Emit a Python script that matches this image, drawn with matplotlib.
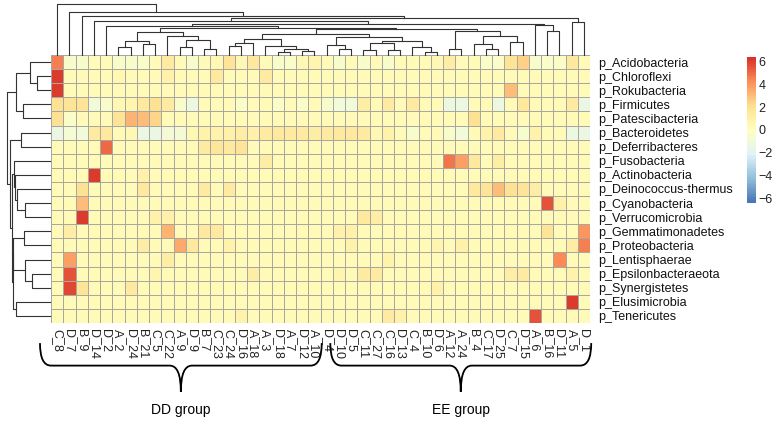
import numpy as np
import matplotlib
matplotlib.use("Agg")
import matplotlib.pyplot as plt
from matplotlib.colors import LinearSegmentedColormap
from matplotlib.path import Path
from matplotlib.patches import PathPatch

plt.rcParams['font.family'] = ['Liberation Sans', 'DejaVu Sans']

# samples in clustered order
samples = ['C_8', 'D_7', 'B_9', 'D_14', 'D_2', 'A_2', 'D_24', 'B_21', 'C_5', 'C_22',
           'A_9', 'D_9', 'B_7', 'C_23', 'C_24', 'D_16', 'A_18', 'A_3', 'D_18', 'A_7',
           'D_12', 'A_10', 'D_4', 'D_10', 'D_5', 'C_11', 'C_27', 'C_16', 'D_13', 'C_4',
           'B_10', 'D_6', 'A_12', 'A_24', 'B_4', 'C_17', 'D_25', 'C_7', 'D_15', 'A_6',
           'B_16', 'D_11', 'A_5', 'D_1']

phyla = ['p_Acidobacteria', 'p_Chloroflexi', 'p_Rokubacteria', 'p_Firmicutes',
         'p_Patescibacteria', 'p_Bacteroidetes', 'p_Deferribacteres', 'p_Fusobacteria',
         'p_Actinobacteria', 'p_Deinococcus-thermus', 'p_Cyanobacteria',
         'p_Verrucomicrobia', 'p_Gemmatimonadetes', 'p_Proteobacteria', 'p_Lentisphaerae',
         'p_Epsilonbacteraeota', 'p_Synergistetes', 'p_Elusimicrobia', 'p_Tenericutes']

# scaled abundance (z-score), one list per phylum
acidobacteria = [4.5, -0.4, -0.4, 0.2, 0.3, -0.4, -0.4, -0.3, 0.3, 1.3, 0.3, -0.4, 0.3, 0.4, 1.8, 0.4, 1.6, 0.3, -0.4, -0.3, 0.5, 0.7,
                 0.3, -0.4, 0.3, -0.4, 0.3, -0.4, 0.3, 0.3, 0.3, 0.5, 1.2, 0.3, 0.3, -0.3, -0.3, 1.8, 2.5, -0.4, -0.3, -0.3, 1.5, 0.3]
chloroflexi = [6.0, 0.3, 0.3, 0.3, 0.3, 0.6, 0.3, 0.3, 0.3, 1.0, 0.3, 0.3, 0.3, 1.5, 0.3, 0.3, 0.3, 1.3, 0.3, 0.3, 0.3, 0.3,
               0.3, 0.3, 0.3, 0.3, 0.3, 0.3, 0.3, 0.3, 0.3, 0.3, 0.3, 0.3, 0.3, 0.3, 0.3, 0.3, 0.3, 0.3, 0.3, 0.3, 0.3, 0.3]
rokubacteria = [6.0, 0.3, 0.3, 0.3, 0.3, 0.3, 0.3, 0.3, 0.3, 0.3, 0.3, 0.3, 0.3, 0.3, 0.3, 0.3, 0.3, 0.3, 0.3, 0.3, 0.3, 0.3,
                0.3, 0.3, 0.3, 0.3, 0.3, 0.3, 0.3, 0.3, 0.3, 0.3, 0.3, 0.3, 0.3, 0.3, 0.3, 3.0, 0.3, 0.3, 0.3, 0.3, 0.3, 0.3]
firmicutes = [2.0, 1.8, 1.8, -1.0, -0.5, 0.5, 0.7, 1.5, 2.0, 1.3, -0.4, -1.2, 0.3, 0.3, 0.3, -0.3, 0.3, 0.3, -0.3, 0.3, -0.3, 0.3,
              -0.4, -1.0, -1.0, 1.2, 0.3, 1.3, 0.3, 1.3, 0.3, 0.3, -1.2, -1.2, 0.3, 0.3, -1.2, 0.3, 1.6, 0.3, 0.3, 0.3, 1.3, -1.3]
patescibacteria = [2.0, -0.3, 0.3, 0.3, 0.3, 1.8, 3.2, 3.0, 2.3, 0.3, 0.3, 0.3, 0.3, 0.3, 0.3, 0.3, 0.3, 0.3, 0.3, 0.3, 0.3, 0.3,
                   0.3, 0.3, 0.3, 0.3, 0.3, 0.3, 0.3, 0.3, 0.3, 0.3, 0.3, 0.3, 2.0, 0.3, 0.3, 0.3, 0.3, 0.3, 0.3, 0.3, 0.3, 0.3]
bacteroidetes = [-1.3, -0.7, -1.0, 1.3, 1.5, 0.3, 0.5, -1.3, -1.3, -0.8, -0.8, 0.5, 0.8, 0.8, 1.0, 1.2, 1.0, 1.3, 1.4, 1.3, 1.3, 1.2,
                 1.3, 1.5, 1.5, 1.3, 0.5, 0.8, 0.3, -0.5, 0.3, 0.3, -0.5, -1.0, 0.3, 0.8, 1.3, 0.3, -0.6, 0.8, 0.3, 0.3, -1.2, -1.3]
deferribacteres = [0.3, 0.3, 0.3, 0.3, 5.0, 0.3, 0.3, 0.3, 0.3, 0.3, 0.3, 0.3, 1.3, 1.7, 1.5, 1.8, 0.3, 0.3, 0.3, 0.3, 0.3, 0.3,
                   0.3, 0.3, 0.3, 0.3, 0.3, 0.3, 0.3, 0.3, 0.3, 0.3, 0.3, 0.3, 0.3, 0.3, 0.3, 0.3, 0.3, 0.3, 0.3, 0.3, 0.3, 0.3]
fusobacteria = [0.3, 0.3, 0.3, 0.3, 0.3, 0.3, 0.3, 0.3, 0.3, 0.3, 0.3, 0.3, 0.3, 0.3, 0.3, 0.3, 0.3, 1.2, 0.3, 0.3, 0.3, 0.3,
                0.3, 0.3, 0.3, 0.3, 0.3, 0.3, 0.3, 0.3, 0.3, 0.3, 4.8, 3.8, 1.5, 0.3, 1.2, 0.3, 0.3, 0.3, 0.3, 0.3, 0.3, 0.3]
actinobacteria = [0.3, 0.3, 0.3, 6.0, 0.3, 0.3, 0.3, 0.9, 0.3, 0.3, 0.3, 0.3, 0.3, 0.3, 0.3, 0.3, 0.3, 0.3, 0.3, 0.3, 0.3, 0.3,
                  0.3, 0.3, 0.3, 0.3, 0.3, 0.3, 0.3, 0.3, 0.3, 0.3, 0.3, 0.3, 0.3, 0.3, 0.3, 0.3, 0.3, 0.3, 0.3, 0.3, 0.3, 0.3]
deinococcus = [0.3, 0.3, 2.0, 0.3, 0.3, 0.3, 0.3, 1.5, 0.3, 0.3, 0.3, 0.3, 1.3, 0.3, 1.3, 0.3, 0.3, 0.3, 0.3, 0.3, 0.3, 0.3,
               0.3, 0.3, 0.3, 0.3, 0.3, 0.3, 0.3, 0.3, 0.3, 0.3, 0.3, 0.3, 1.5, 1.8, 3.0, 2.0, 1.8, 1.2, 0.3, 0.3, 0.3, 0.3]
cyanobacteria = [0.3, 0.3, 3.0, 0.3, 0.3, 0.3, 0.3, 0.3, 0.3, 0.3, 0.3, 0.3, 0.3, 0.3, 0.3, 0.3, 0.3, 0.3, 0.3, 0.3, 0.3, 0.3,
                 0.3, 0.3, 0.3, 0.3, 0.3, 0.3, 0.3, 0.3, 0.3, 0.3, 0.3, 0.3, 0.3, 0.3, 0.3, 0.3, 0.3, 0.3, 5.5, 1.0, 0.3, 0.3]
verrucomicrobia = [0.3, 0.3, 6.0, 0.3, 0.3, 0.3, 0.3, 0.3, 0.9, 1.0, 0.3, 0.3, 0.3, 0.3, 0.3, 0.3, 0.3, 0.3, 0.3, 0.3, 0.3, 0.3,
                   0.3, 0.3, 0.3, 1.5, 1.2, 0.3, 0.3, 0.3, 0.3, 0.3, 0.3, 0.3, 0.3, 0.3, 0.3, 0.3, 0.3, 0.3, 0.3, 0.3, 0.3, 0.3]
gemmatimonadetes = [0.3, 1.2, 0.3, 0.3, 0.3, 0.3, 0.3, 0.3, 0.3, 3.2, 0.3, 0.3, 1.5, 1.5, 0.3, 0.3, 0.3, 0.3, 0.3, 0.3, 0.3, 0.3,
                    0.3, 1.0, 1.0, 0.3, 0.3, 0.3, 0.3, 0.3, 0.3, 0.3, 0.3, 0.3, 0.3, 0.3, 0.3, 0.3, 0.3, 0.3, 1.8, 0.3, 0.3, 4.0]
proteobacteria = [0.3, 0.3, 0.3, 0.3, 0.3, 0.3, 0.3, 1.2, 0.3, 0.3, 3.5, 1.5, 0.3, 0.3, 0.8, 0.3, 0.3, 0.3, 0.3, 0.3, 0.3, 0.3,
                  0.3, 0.3, 0.8, 0.3, 0.3, 0.3, 0.3, 0.3, 0.3, 0.7, 0.3, 0.9, 0.3, 0.3, 0.3, 0.3, 0.3, 0.3, 0.3, 0.3, 1.2, 4.5]
lentisphaerae = [0.3, 3.8, 0.3, 0.3, 0.3, 0.3, 0.3, 0.3, 0.3, 1.2, 0.3, 0.3, 0.3, 0.3, 0.3, 0.3, 0.3, 0.3, 0.3, 0.3, 0.3, 0.3,
                 0.3, 0.3, 0.3, 0.3, 0.3, 0.8, 0.3, 0.3, 0.3, 0.3, 0.3, 0.3, 0.3, 0.3, 0.3, 0.3, 0.3, 0.3, 0.3, 4.3, 0.3, 0.3]
epsilonbacteraeota = [0.3, 5.5, 0.3, 0.3, 0.3, 0.3, 0.3, 0.3, 0.7, 0.3, 0.3, 0.3, 0.3, 0.3, 0.3, 0.3, 1.2, 0.3, 0.3, 0.3, 0.3, 0.3,
                      0.3, 0.7, 0.3, 1.3, 1.3, 0.3, 0.3, 0.3, 0.3, 0.3, 0.3, 0.3, 0.3, 0.3, 0.3, 1.2, 1.3, 0.3, 0.3, 0.3, 0.8, 0.3]
synergistetes = [0.3, 5.8, 1.8, 0.3, 0.3, 0.3, 1.5, 0.3, 0.3, 0.3, 0.3, 0.3, 0.3, 0.3, 0.3, 0.3, 0.3, 0.3, 0.3, 0.3, 0.3, 0.3,
                 0.3, 0.3, 0.3, 0.3, 0.3, 0.3, 0.3, 0.3, 0.3, 0.9, 0.3, 0.3, 0.3, 0.3, 0.3, 0.3, 0.3, 0.3, 0.3, 0.3, 0.3, 0.3]
elusimicrobia = [0.3, 0.3, 0.3, 0.3, 0.3, 0.3, 0.3, 0.3, 0.3, 0.3, 0.3, 0.3, 0.3, 0.3, 0.3, 0.3, 0.3, 0.3, 0.3, 0.3, 0.3, 0.3,
                 0.3, 0.3, 0.3, 0.3, 0.3, 0.3, 0.3, 0.3, 0.3, 0.3, 0.3, 0.3, 0.3, 0.3, 0.3, 0.3, 0.3, 0.3, 0.3, 0.3, 6.0, 0.3]
tenericutes = [0.3, 0.3, 0.3, 0.3, 0.3, 0.3, 0.3, 0.3, 0.3, 0.3, 0.3, 0.3, 0.3, 0.3, 0.3, 0.8, 0.3, 0.3, 0.3, 0.3, 0.3, 0.3,
               0.3, 0.3, 0.3, 0.3, 0.3, 1.3, 1.0, 0.3, 0.3, 0.3, 0.3, 0.3, 0.3, 0.3, 0.3, 0.3, 0.3, 5.5, 0.3, 0.3, 0.3, 0.3]

values = np.array([acidobacteria, chloroflexi, rokubacteria, firmicutes, patescibacteria,
                   bacteroidetes, deferribacteres, fusobacteria, actinobacteria, deinococcus,
                   cyanobacteria, verrucomicrobia, gemmatimonadetes, proteobacteria,
                   lentisphaerae, epsilonbacteraeota, synergistetes, elusimicrobia, tenericutes])

# clustering trees: (left, right, merge height), leaves are column / row positions
col_rs = (((5, 6, 8), (7, 8, 11), 14), (9, ((10, 11, 8), (12, 13, 6), 15), 19), 23)
col_t = (((14, 15, 9), 16, 12), (17, ((18, 19, 3), (20, 21, 4), 6), 9), 16)
col_uv = ((22, (23, 24, 6), 10), (((25, 26, 5), (27, 28, 5), 12), (29, (30, 31, 3), 8), 14), 18)
col_w = ((32, 33, 6), ((34, (35, 36, 6), 11), (37, 38, 13), 19), 24)
col_mid = (col_rs, ((col_t, col_uv, 21), col_w, 26), 27)
col_n4 = (4, col_mid, 29)
col_n39 = (col_n4, (39, (40, 41, 24), 30), 31.5)
col_n42 = ((3, col_n39, 34), (42, 43, 33), 37)
col_tree = (0, (1, (2, col_n42, 39), 43), 51)

row_top = ((0, (1, 2, 13), 20), (3, 4, 27), 34)
row_low = ((7, (8, (9, (10, 11, 25), 33), 35.5), 36),
           (((12, 13, 26), (14, (15, 16, 18), 25), 37), (17, 18, 34), 37.5), 38)
row_tree = (row_top, ((5, 6, 29), row_low, 40), 43)

groups = ['DD group', 'EE group']
group_spans = [(-0.9, 22.1), (22.8, 44.1)]

palette = ['#4575B4', '#91BFDB', '#E0F3F8', '#FFFFBF', '#FEE090', '#FC8D59', '#D73027']
cmap = LinearSegmentedColormap.from_list('rdylbu', palette, N=100)
vmax = 6.35

W, H = 777, 425
fig = plt.figure(figsize=(W / 100, H / 100), dpi=100)


def fig_box(x0, y0, x1, y1):
    # pixel box (top-left origin) -> figure fraction
    return [x0 / W, 1 - y1 / H, (x1 - x0) / W, (y1 - y0) / H]


def draw_tree(ax, node, horizontal=False):
    if isinstance(node, int):
        return node + 0.5, 0.0
    left, right, h = node
    xl, hl = draw_tree(ax, left, horizontal)
    xr, hr = draw_tree(ax, right, horizontal)
    pos = [xl, xl, xr, xr]
    hgt = [hl, h, h, hr]
    if horizontal:
        ax.plot(hgt, pos, color='#333333', lw=0.8, clip_on=False)
    else:
        ax.plot(pos, hgt, color='#333333', lw=0.8, clip_on=False)
    return (xl + xr) / 2, h


n_rows, n_cols = values.shape

# heatmap
ax = fig.add_axes(fig_box(51, 55, 590, 323))
mesh = ax.pcolormesh(values, cmap=cmap, vmin=-vmax, vmax=vmax,
                     edgecolors='#a8a8a0', linewidth=0.7)
ax.set_xlim(0, n_cols)
ax.set_ylim(n_rows, 0)
for s in ax.spines.values():
    s.set_visible(False)
ax.set_xticks(np.arange(n_cols) + 0.5)
ax.set_xticklabels(samples, rotation=270, fontsize=9, color='#222222')
ax.set_yticks(np.arange(n_rows) + 0.5)
ax.set_yticklabels(phyla, fontsize=9, color='#111111')
ax.yaxis.tick_right()
ax.tick_params(axis='both', length=0)
ax.tick_params(axis='x', pad=4)
ax.tick_params(axis='y', pad=6)

# column dendrogram
ax_top = fig.add_axes(fig_box(51, 0, 590, 55))
draw_tree(ax_top, col_tree)
ax_top.set_xlim(0, n_cols)
ax_top.set_ylim(0, 55)
ax_top.axis('off')

# row dendrogram
ax_left = fig.add_axes(fig_box(0, 55, 50, 323))
draw_tree(ax_left, row_tree, horizontal=True)
ax_left.set_xlim(50, 0)
ax_left.set_ylim(n_rows, 0)
ax_left.axis('off')

# colour bar
cax = fig.add_axes(fig_box(747, 57, 756, 203))
cb = fig.colorbar(mesh, cax=cax, ticks=[-6, -4, -2, 0, 2, 4, 6])
cb.outline.set_visible(False)
cax.tick_params(length=0, labelsize=9, pad=2, labelcolor='#222222')

# group braces under the sample labels
bax = fig.add_axes(fig_box(51, 335, 590, 425))
bax.set_xlim(0, n_cols)
bax.set_ylim(0, 1)
bax.axis('off')
y_top, y_mid, y_tip = 0.91, 0.66, 0.37
for name, (x0, x1) in zip(groups, group_spans):
    xm = (x0 + x1) / 2
    r = 0.9
    verts = [(x0, y_top), (x0, y_mid), (x0 + r, y_mid),
             (xm - r, y_mid), (xm, y_mid), (xm, y_tip),
             (xm, y_mid), (xm + r, y_mid),
             (x1 - r, y_mid), (x1, y_mid), (x1, y_top)]
    codes = [Path.MOVETO, Path.CURVE3, Path.CURVE3,
             Path.LINETO, Path.CURVE3, Path.CURVE3,
             Path.CURVE3, Path.CURVE3,
             Path.LINETO, Path.CURVE3, Path.CURVE3]
    bax.add_patch(PathPatch(Path(verts, codes), facecolor='none',
                            edgecolor='black', lw=1.3, clip_on=False))
    bax.text(xm, 0.17, name, ha='center', va='center', fontsize=10)

fig.savefig('out.png', dpi=100)
